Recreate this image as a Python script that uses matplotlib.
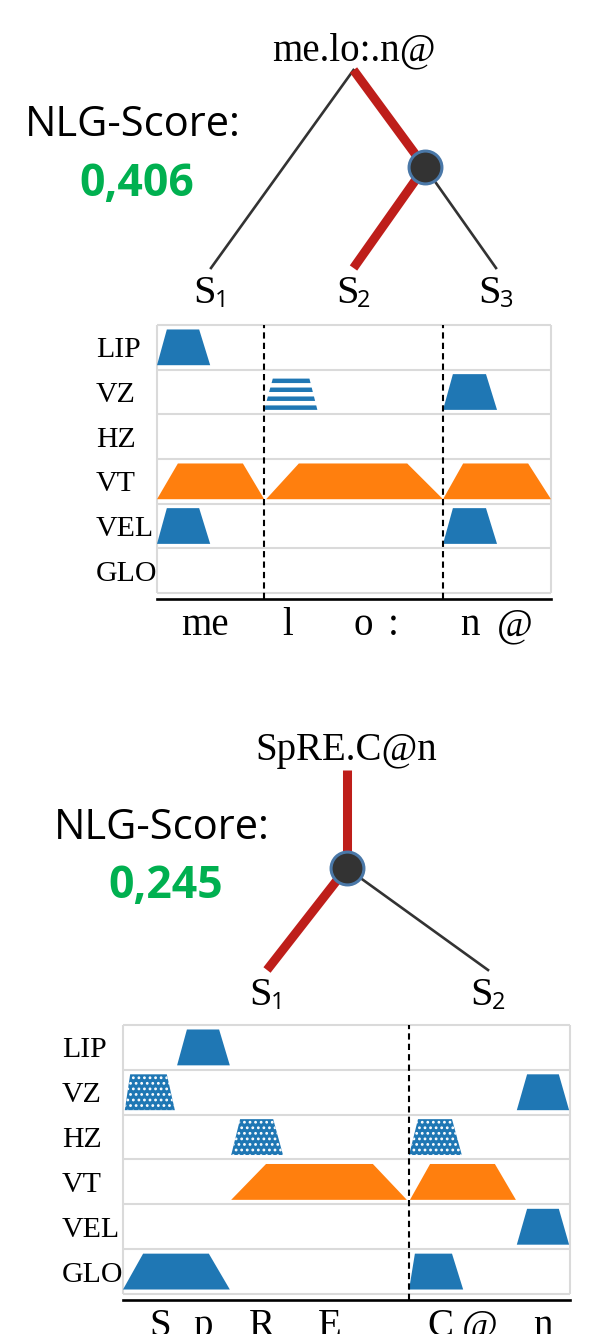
import matplotlib.pyplot as plt
from matplotlib.patches import Polygon

W, H = 595, 1334
plt.rcParams['font.family'] = ['Liberation Serif', 'DejaVu Serif']
plt.rcParams['hatch.linewidth'] = 1.2

BLUE = "#1f77b4"
ORANGE = "#ff7f0e"
RED = "#be1e1a"
DARK = "#333333"
GREEN = "#00b050"
GRID = "#dadada"

rows = ["LIP", "VZ", "HZ", "VT", "VEL", "GLO"]

# ---- first word: me.lo:.n@ ----
top_word = "me.lo:.n@"
top_score = "0,406"
top_pos = {"root": (1.0, 0.0), "n1": (1.5, 0.49),
           "S1": (0.0, 1.0), "S2": (1.0, 1.0), "S3": (2.0, 1.0)}
top_edges = [("root", "S1", False), ("root", "n1", True),
             ("n1", "S2", True), ("n1", "S3", False)]
top_phones = ["me", "l", "o", ":", "n", "@"]
top_phone_x = [12.2, 33.2, 52.3, 59.9, 79.4, 90.9]
top_bounds = [27.2, 72.6]
top_shape_row = ["LIP", "VZ", "VZ", "VT", "VT", "VT", "VEL", "VEL"]
top_shape_x = [[0.0, 2.5, 10.7, 13.5],
               [27.2, 29.7, 38.4, 40.7],
               [72.6, 75.1, 83.5, 86.3],
               [0.0, 5.3, 21.8, 27.2],
               [27.7, 36.0, 63.5, 72.6],
               [72.6, 77.7, 94.2, 100.0],
               [0.0, 2.5, 10.7, 13.5],
               [72.6, 75.1, 83.5, 86.3]]
top_shape_kind = ["solid", "striped", "solid", "vt", "vt", "vt", "solid", "solid"]

# ---- second word: SpRE.C@n ----
bot_word = "SpRE.C@n"
bot_score = "0,245"
bot_pos = {"root": (0.36, 0.0), "n1": (0.36, 0.49),
           "S1": (0.0, 1.0), "S2": (1.0, 1.0)}
bot_edges = [("root", "n1", True), ("n1", "S1", True), ("n1", "S2", False)]
bot_phones = ["S", "p", "R", "E", "C", "@", "n"]
bot_phone_x = [8.3, 17.9, 31.1, 46.3, 70.9, 79.9, 94.0]
bot_bounds = [64.0]
bot_shape_row = ["LIP", "VZ", "VZ", "HZ", "HZ", "VT", "VT", "VEL", "GLO", "GLO"]
bot_shape_x = [[12.1, 14.3, 21.5, 23.9],
               [0.4, 1.6, 9.8, 11.6],
               [88.1, 90.4, 97.5, 99.8],
               [24.2, 26.2, 33.6, 35.8],
               [64.0, 66.0, 73.6, 75.8],
               [24.2, 32.0, 55.9, 63.5],
               [64.2, 68.7, 83.2, 87.9],
               [88.1, 90.4, 97.5, 99.8],
               [0.0, 4.5, 19.2, 23.9],
               [64.0, 65.3, 73.6, 76.1]]
bot_shape_kind = ["solid", "dotted", "solid", "dotted", "dotted",
                  "vt", "vt", "solid", "solid", "solid"]

fig = plt.figure(figsize=(W / 100, H / 100), dpi=100)


def px_axes(left, top, right, bottom):
    return fig.add_axes([left / W, 1 - bottom / H, (right - left) / W, (bottom - top) / H])


def draw_tree(top, bottom, x0, xs, y0, ys, pos, edges, word):
    ax = px_axes(0, top, W, bottom)
    ax.set_xlim(-x0 / xs, (W - x0) / xs)
    ax.set_ylim((bottom - y0) / ys, (top - y0) / ys)
    ax.axis("off")
    for a, b, hot in edges:
        xa, ya = pos[a]
        xb, yb = pos[b]
        if hot:
            ax.plot([xa, xb], [ya, yb], color=RED, lw=6.5, solid_capstyle="butt", zorder=2)
        else:
            ax.plot([xa, xb], [ya, yb], color=DARK, lw=1.9, zorder=1)
    ax.scatter([pos["n1"][0]], [pos["n1"][1]], s=560, color=DARK,
               edgecolor="#4a78a8", linewidth=2.2, zorder=3)
    rx, ry = pos["root"]
    ax.annotate(word, (rx, ry), xytext=(0, 7), textcoords="offset points",
                ha="center", va="baseline", fontsize=28)
    for k, (x, y) in pos.items():
        if not k.startswith("S"):
            continue
        ax.annotate("S", (x, y), xytext=(-4.5, -25), textcoords="offset points",
                    ha="center", va="baseline", fontsize=29)
        ax.annotate(k[1], (x, y), xytext=(2.5, -28), textcoords="offset points",
                    ha="left", va="baseline", fontsize=17, family="Open Sans")


def edge_at(x, y, y_lo=0.1, y_hi=0.9):
    f = (y - y_lo) / (y_hi - y_lo)
    return x[0] + (x[1] - x[0]) * f, x[3] + (x[2] - x[3]) * f


def draw_panel(box, phones, phone_x, bounds, shape_row, shape_x, shape_kind):
    ax = px_axes(*box)
    ax.set_xlim(0, 100)
    ax.set_ylim(-0.134, 6)
    for s in ["top", "left", "right"]:
        ax.spines[s].set_visible(False)
    ax.spines["bottom"].set_linewidth(1.9)
    ax.hlines(range(7), 0, 100, color=GRID, lw=1.5, clip_on=False, zorder=1)
    ax.vlines([0, 100], 0, 6, color=GRID, lw=1.5, clip_on=False, zorder=1)
    ax.vlines(bounds, -0.134, 6, color="black", lw=1.5, linestyles=(0, (3, 2)), zorder=4)

    for r, x, kind in zip(shape_row, shape_x, shape_kind):
        base = 5 - rows.index(r)
        lo, hi = base + 0.1, base + 0.9
        if kind == "striped":
            for a in [0.1, 0.3, 0.5, 0.7]:
                la, ra = edge_at(x, a)
                lb, rb = edge_at(x, a + 0.1)
                ax.fill([la, lb, rb, ra], [base + a, base + a + 0.1, base + a + 0.1, base + a],
                        color=BLUE, lw=0, zorder=2)
            continue
        poly = Polygon(list(zip(x, [lo, hi, hi, lo])), closed=True, zorder=2)
        if kind == "vt":
            poly.set_facecolor(ORANGE)
            poly.set_linewidth(0)
        elif kind == "dotted":
            poly.set_facecolor(BLUE)
            poly.set_edgecolor("white")
            poly.set_hatch("...")
            poly.set_linewidth(0)
        else:
            poly.set_facecolor(BLUE)
            poly.set_linewidth(0)
        ax.add_patch(poly)

    ax.set_yticks([5.5 - i for i in range(6)], rows)
    ax.tick_params(axis="y", length=0, pad=44, labelsize=21.5)
    for t in ax.get_yticklabels():
        t.set_horizontalalignment("left")
    ax.set_xticks(phone_x, phones)
    ax.tick_params(axis="x", length=0, pad=6, labelsize=28)
    return ax


# trees and scores
draw_tree(0, 320, 211, 142.5, 70, 198, top_pos, top_edges, top_word)
draw_tree(700, 1020, 267, 221, 770, 200, bot_pos, bot_edges, bot_word)

fig.text(133 / W, 1 - 125 / H, "NLG-Score:", ha="center", va="center",
         fontsize=30, family="Open Sans")
fig.text(137 / W, 1 - 185 / H, top_score, ha="center", va="center",
         fontsize=32, family="Open Sans", weight="bold", color=GREEN)
fig.text(162 / W, 1 - 828 / H, "NLG-Score:", ha="center", va="center",
         fontsize=30, family="Open Sans")
fig.text(166 / W, 1 - 887 / H, bot_score, ha="center", va="center",
         fontsize=32, family="Open Sans", weight="bold", color=GREEN)

# articulator panels
draw_panel((157, 325, 551, 599), top_phones, top_phone_x, top_bounds,
           top_shape_row, top_shape_x, top_shape_kind)
draw_panel((123, 1025, 570, 1300), bot_phones, bot_phone_x, bot_bounds,
           bot_shape_row, bot_shape_x, bot_shape_kind)

fig.savefig("out.png", dpi=100)
